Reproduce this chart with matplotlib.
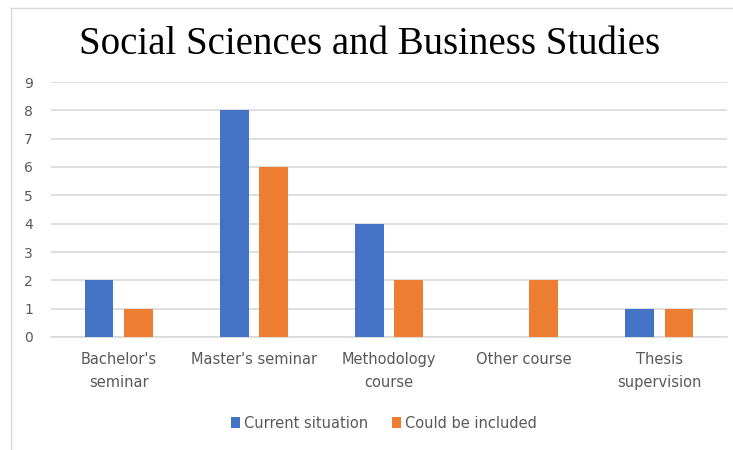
import matplotlib
matplotlib.use("Agg")
import matplotlib.pyplot as plt
import numpy as np
from matplotlib.lines import Line2D

categories = ["Bachelor's\nseminar", "Master's seminar", "Methodology\ncourse", "Other course", "Thesis\nsupervision"]
current = [2, 8, 4, 0, 1]
could = [1, 6, 2, 2, 1]
series_names = ["Current situation", "Could be included"]
yticks = list(range(0, 10))

W, H = 733, 450
fig = plt.figure(figsize=(W / 100, H / 100), dpi=100)
ax = fig.add_axes([51 / W, 1 - 337 / H, (727 - 51) / W, (337 - 82) / H])

x = np.arange(len(categories))
bw = 0.214
off = 0.145
b1 = ax.bar(x - off, current, bw, color="#4472C4", label=series_names[0], zorder=3)
b2 = ax.bar(x + off, could, bw, color="#ED7D31", label=series_names[1], zorder=3)

ax.set_xlim(-0.5, len(categories) - 0.5)
ax.set_ylim(0, 9)
ax.set_yticks(yticks)
ax.yaxis.grid(True, color="#D9D9D9", linewidth=1.2, zorder=0)
for s in ["top", "right", "left"]:
    ax.spines[s].set_visible(False)
ax.spines["bottom"].set_color("#D9D9D9")
ax.spines["bottom"].set_linewidth(1.2)
ax.tick_params(axis="both", length=0, colors="#595959")
ax.tick_params(axis="x", pad=11)
ax.tick_params(axis="y", pad=13, labelsize=10)
ax.set_xticks(x)
ax.set_xticklabels(categories, fontsize=10.5, color="#595959", linespacing=1.65)

fig.text(370 / W, 1 - 45 / H, "Social Sciences and Business Studies", ha="center", va="center",
         fontsize=28, family="Liberation Serif", color="black")

fig.legend(handles=[b1, b2], labels=series_names, loc="center", bbox_to_anchor=(384 / W, 1 - 423 / H),
           ncol=2, frameon=False, fontsize=10.5, handlelength=0.6, handleheight=0.75,
           handletextpad=0.3, columnspacing=1.6, labelcolor="#595959")

fig.add_artist(Line2D([11 / W, 11 / W], [0, 1 - 8 / H], transform=fig.transFigure, color="#D9D9D9", lw=1))
fig.add_artist(Line2D([11 / W, 1], [1 - 8 / H, 1 - 8 / H], transform=fig.transFigure, color="#D9D9D9", lw=1))

fig.savefig("out.png", dpi=100)
